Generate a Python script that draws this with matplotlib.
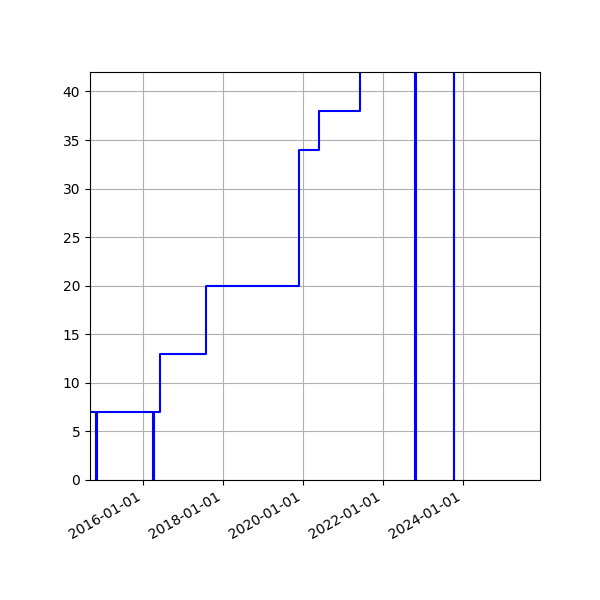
import matplotlib
matplotlib.use('Agg')
import matplotlib.pyplot as plt
import matplotlib.dates as mdates
import pandas as pd

dates = pd.to_datetime([
    '2014-06-01', '2014-10-27', '2014-11-02', '2016-03-31', '2016-04-06',
    '2016-06-04', '2017-07-28', '2019-11-25', '2020-05-27', '2021-06-05',
    '2022-10-18', '2022-10-24', '2023-10-09', '2023-10-15', '2025-12-31',
])
counts = [7, -10, 7, -10, 7, 13, 20, 34, 38, 60, -10, 60, -10, 60, 60]

fig, ax = plt.subplots(figsize=(6, 6), dpi=100)
ax.plot(dates, counts, color='blue', drawstyle='steps-post')

ax.xaxis.set_major_locator(mdates.YearLocator(2))
ax.xaxis.set_major_formatter(mdates.DateFormatter('%Y-%m-%d'))
ax.set_xlim(pd.Timestamp('2014-09-03'), pd.Timestamp('2025-12-04'))
ax.set_ylim(0, 42)
ax.grid(True)

fig.autofmt_xdate()
plt.subplots_adjust(left=0.15)
plt.savefig('out.png')
